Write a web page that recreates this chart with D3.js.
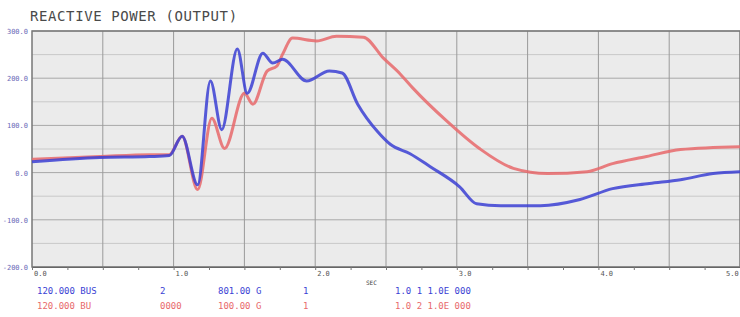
<!DOCTYPE html>
<html>
<head>
<meta charset="utf-8">
<script src="https://cdn.jsdelivr.net/npm/d3@7"></script>
<style>
  body { margin: 0; background: #fff; }
  svg { display: block; }
</style>
</head>
<body>
<div id="chart"></div>
<script>
// Time in seconds and reactive power values
const blueTime  = [0, 0.48, 0.83, 0.97, 1.06, 1.17, 1.26, 1.34, 1.45, 1.52, 1.63, 1.70, 1.77, 1.94, 2.10, 2.19, 2.30, 2.44, 2.53, 2.67, 2.81, 3.02, 3.14, 3.31, 3.59, 3.87, 4.10, 4.36, 4.58, 4.81, 5.0];
const blueValue = [23, 32, 34, 36, 77, -26, 194, 91, 262, 168, 253, 232, 240, 194, 215, 211, 145, 87, 60, 40, 13, -30, -66, -70, -70, -57, -34, -23, -15, -2, 2];

const redTime  = [0, 0.48, 0.83, 0.97, 1.06, 1.17, 1.27, 1.36, 1.50, 1.56, 1.66, 1.73, 1.77, 1.84, 2.01, 2.15, 2.34, 2.48, 2.60, 2.69, 2.93, 3.16, 3.40, 3.64, 3.92, 4.10, 4.34, 4.58, 5.0];
const redValue = [28, 34, 38, 38, 77, -36, 115, 51, 168, 145, 215, 226, 251, 285, 279, 289, 287, 243, 209, 179, 109, 51, 9, -2, 2, 19, 34, 49, 55];

const yTicks = [-200, -100, 0, 100, 200, 300];
const xTicks = [0, 1, 2, 3, 4, 5];

const legendRows = [
    {color: "#3b3fd4", cols: ["120.000 BUS", "2", "801.00 G", "1", "1.0  1  1.0E 000"]},
    {color: "#e8696b", cols: ["120.000 BU", "0000", "100.00 G", "1", "1.0  2  1.0E 000"]}
];
const legendX = [37, 160, 218, 303, 395];

const W = 740, H = 317;
const plot = {left: 32, right: 740, top: 31, bottom: 267};

const svg = d3.select("#chart").append("svg")
    .attr("width", W)
    .attr("height", H);

const x = d3.scaleLinear().domain([0, 5]).range([plot.left, plot.right]);
const y = d3.scaleLinear().domain([-200, 300]).range([plot.bottom, plot.top]);

// Plot background
svg.append("rect")
   .attr("x", plot.left).attr("y", plot.top)
   .attr("width", plot.right - plot.left)
   .attr("height", plot.bottom - plot.top)
   .attr("fill", "#ebebeb");

// Minor horizontal grid (halfway between majors)
svg.append("g").selectAll("line")
   .data(d3.range(-150, 300, 100))
   .join("line")
   .attr("x1", plot.left).attr("x2", plot.right)
   .attr("y1", d => y(d)).attr("y2", d => y(d))
   .attr("stroke", "#c9c9c9").attr("stroke-width", 1);

// Major horizontal grid
svg.append("g").selectAll("line")
   .data(yTicks)
   .join("line")
   .attr("x1", plot.left).attr("x2", plot.right)
   .attr("y1", d => y(d)).attr("y2", d => y(d))
   .attr("stroke", "#a8a8a8").attr("stroke-width", 1);

// Vertical grid every half second
svg.append("g").selectAll("line")
   .data(d3.range(0.5, 5, 0.5))
   .join("line")
   .attr("x1", d => x(d)).attr("x2", d => x(d))
   .attr("y1", plot.top).attr("y2", plot.bottom)
   .attr("stroke", "#9a9a9a").attr("stroke-width", 1);

// Frame
svg.append("rect")
   .attr("x", plot.left).attr("y", plot.top)
   .attr("width", plot.right - plot.left)
   .attr("height", plot.bottom - plot.top)
   .attr("fill", "none")
   .attr("stroke", "#777").attr("stroke-width", 1.5);

// Bottom axis with small ticks
svg.append("g")
   .attr("transform", `translate(0,${plot.bottom})`)
   .call(d3.axisBottom(x).tickValues(d3.range(0, 5.01, 0.25)).tickSize(3).tickFormat(""))
   .call(g => g.select(".domain").attr("stroke", "#666"))
   .call(g => g.selectAll("line").attr("stroke", "#777"));

// X tick labels
svg.append("g").selectAll("text")
   .data(xTicks)
   .join("text")
   .attr("x", d => x(d) + (d === 5 ? -14 : 2))
   .attr("y", plot.bottom + 9)
   .attr("font-family", "DejaVu Sans Mono, monospace")
   .attr("font-size", 7)
   .attr("fill", "#555")
   .text(d => d.toFixed(1));

svg.append("text")
   .attr("x", 366).attr("y", 285)
   .attr("font-family", "DejaVu Sans Mono, monospace")
   .attr("font-size", 6)
   .attr("fill", "#444")
   .text("SEC");

// Y tick labels
svg.append("g").selectAll("text")
   .data(yTicks)
   .join("text")
   .attr("x", plot.left - 4)
   .attr("y", d => y(d) + 3)
   .attr("text-anchor", "end")
   .attr("font-family", "DejaVu Sans Mono, monospace")
   .attr("font-size", 7)
   .attr("fill", "#6a6ab8")
   .text(d => d.toFixed(1));

// Title
svg.append("text")
   .attr("x", 30).attr("y", 21)
   .attr("font-family", "DejaVu Sans Mono, monospace")
   .attr("font-size", 14)
   .attr("letter-spacing", 0.6)
   .attr("fill", "#4a4a4a")
   .text("REACTIVE POWER (OUTPUT)");

// Curves
const line = d3.line()
    .x(d => x(d[0]))
    .y(d => y(d[1]))
    .curve(d3.curveMonotoneX);

svg.append("path")
   .datum(redTime.map((t, i) => [t, redValue[i]]))
   .attr("d", line)
   .attr("fill", "none")
   .attr("stroke", "#e8696b")
   .attr("stroke-width", 3)
   .attr("stroke-opacity", 0.85);

svg.append("path")
   .datum(blueTime.map((t, i) => [t, blueValue[i]]))
   .attr("d", line)
   .attr("fill", "none")
   .attr("stroke", "#3b3fd4")
   .attr("stroke-width", 3)
   .attr("stroke-opacity", 0.85);

// Legend
legendRows.forEach((row, r) => {
    svg.append("g").selectAll("text")
       .data(row.cols)
       .join("text")
       .attr("x", (d, i) => legendX[i])
       .attr("y", 294 + r * 15)
       .attr("font-family", "DejaVu Sans Mono, monospace")
       .attr("font-size", 9)
       .attr("fill", row.color)
       .text(d => d);
});
</script>
</body>
</html>
